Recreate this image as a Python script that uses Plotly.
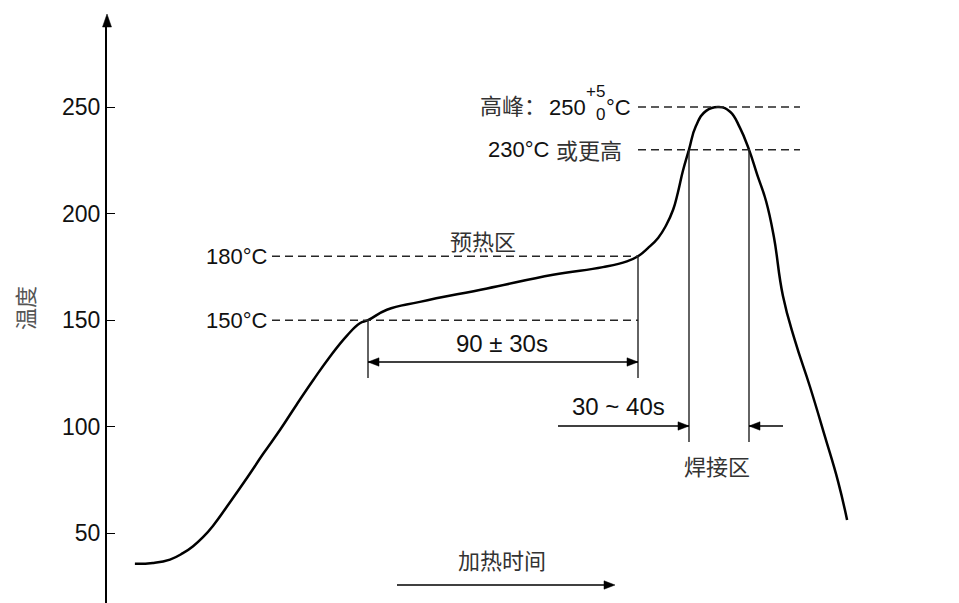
import plotly.graph_objects as go

# Reflow soldering profile: time (s) against temperature (°C)
time_s = [9.3, 15.3, 21.0, 25.3, 28.7, 32.0, 35.3, 41.0, 46.7, 52.0, 57.7, 63.3,
          68.7, 74.3, 80.0, 84.3, 87.0, 93.3, 104.3, 126.7, 148.7, 165.3, 173.3,
          177.0, 180.3, 183.7, 186.3, 188.7, 190.3, 192.0, 194.0, 196.3, 199.7,
          204.0, 207.7, 211.0, 214.0, 216.7, 219.7, 222.3, 225.3, 229.3, 234.3,
          239.3, 243.7, 246.7]
temp_c = [35.7, 36.1, 37.7, 40.7, 44.0, 48.2, 53.5, 64.6, 76.1, 87.2, 98.6, 110.6,
          121.8, 132.9, 142.8, 148.6, 150.0, 154.9, 158.6, 164.9, 171.3, 174.9, 177.6,
          180.0, 183.8, 188.6, 194.3, 201.8, 209.9, 220.2, 230.0, 241.1, 248.2,
          250.0, 247.8, 240.2, 230.0, 218.4, 205.8, 189.0, 161.5, 140.5, 118.9,
          95.5, 74.3, 56.3]

tick_vals = [50, 100, 150, 200, 250]
tick_text = ["50", "100", "150", "200", "250"]

preheat_temps = [150, 180]      # preheat zone limits
preheat_times = [87, 177]       # start / end of the preheat zone
reflow_temp = 230               # liquidus level
reflow_times = [194, 214]       # curve above 230 °C
peak_temp = 250

# ---- layout geometry -------------------------------------------------------
W, H = 959, 603
AX_X = 107                      # y axis position (px)
AX_TOP = 25                     # top of the y axis line (px)
X_RANGE = [0, 284]
Y_RANGE = [17.34, 288.48]
PX_PER_S = (W - AX_X) / (X_RANGE[1] - X_RANGE[0])
PX_PER_DEG = (H - AX_TOP) / (Y_RANGE[1] - Y_RANGE[0])


def px_to_t(px):
    return X_RANGE[0] + (px - AX_X) / PX_PER_S


def py_to_v(py):
    return Y_RANGE[0] + (H - py) / PX_PER_DEG


def t_to_px(t):
    return AX_X + (t - X_RANGE[0]) * PX_PER_S


def v_to_py(v):
    return H - (v - Y_RANGE[0]) * PX_PER_DEG


def paper(px, py):
    return px / W, 1 - py / H


def head(t, v, direction, length=11, half=4.2):
    """Filled triangular arrow head with its tip at (t, v), in data coords."""
    tx, ty = t_to_px(t), v_to_py(v)
    dx, dy = direction
    bx, by = tx - dx * length, ty - dy * length
    px_, py_ = -dy * half, dx * half
    pts = [(tx, ty), (bx + px_, by + py_), (bx - px_, by - py_)]
    d = "M " + " L ".join(f"{px_to_t(x):.4f},{py_to_v(y):.4f}" for x, y in pts) + " Z"
    return dict(type="path", xref="x", yref="y", path=d,
                fillcolor="black", line=dict(color="black", width=0.5))


NUM_FONT = "Liberation Sans, Arial, Noto Sans CJK SC"
CJK_FONT = "Noto Sans CJK SC, Liberation Sans"

fig = go.Figure()

fig.add_trace(go.Scatter(
    x=time_s, y=temp_c, mode="lines",
    line=dict(color="black", width=2.5, shape="spline", smoothing=1.3),
    hoverinfo="skip", showlegend=False,
))

shapes = []
DASH = dict(color="#262626", width=1.5, dash="8px,5px")
THIN = dict(color="#222222", width=1.4)

# dashed reference levels
label_edge_t = px_to_t(272)
for lvl in preheat_temps:
    shapes.append(dict(type="line", xref="x", yref="y", x0=label_edge_t, x1=preheat_times[1],
                       y0=lvl, y1=lvl, line=DASH))
right_t = px_to_t(800)
for lvl in [peak_temp, reflow_temp]:
    shapes.append(dict(type="line", xref="x", yref="y", x0=preheat_times[1], x1=right_t,
                       y0=lvl, y1=lvl, line=DASH))

# vertical markers
preheat_bottom = py_to_v(378)
shapes.append(dict(type="line", xref="x", yref="y", x0=preheat_times[0], x1=preheat_times[0],
                   y0=preheat_temps[0], y1=preheat_bottom, line=THIN))
shapes.append(dict(type="line", xref="x", yref="y", x0=preheat_times[1], x1=preheat_times[1],
                   y0=preheat_temps[1], y1=preheat_bottom, line=THIN))
reflow_bottom = py_to_v(442)
for t in reflow_times:
    shapes.append(dict(type="line", xref="x", yref="y", x0=t, x1=t,
                       y0=reflow_temp, y1=reflow_bottom, line=THIN))

# 90 ± 30 s span arrow
span_v = py_to_v(362)
shapes.append(dict(type="line", xref="x", yref="y", x0=preheat_times[0], x1=preheat_times[1],
                   y0=span_v, y1=span_v, line=dict(color="black", width=1.4)))
shapes.append(head(preheat_times[0], span_v, (-1, 0)))
shapes.append(head(preheat_times[1], span_v, (1, 0)))

# 30 ~ 40 s arrows pointing at the reflow zone
weld_v = py_to_v(426)
shapes.append(dict(type="line", xref="x", yref="y", x0=px_to_t(558), x1=reflow_times[0],
                   y0=weld_v, y1=weld_v, line=dict(color="black", width=1.4)))
shapes.append(head(reflow_times[0], weld_v, (1, 0)))
shapes.append(dict(type="line", xref="x", yref="y", x0=px_to_t(783), x1=reflow_times[1],
                   y0=weld_v, y1=weld_v, line=dict(color="black", width=1.4)))
shapes.append(head(reflow_times[1], weld_v, (-1, 0)))

# heating-time direction arrow
ht_v = py_to_v(585)
shapes.append(dict(type="line", xref="x", yref="y", x0=px_to_t(397), x1=px_to_t(605),
                   y0=ht_v, y1=ht_v, line=dict(color="black", width=1.4)))
shapes.append(head(px_to_t(615), ht_v, (1, 0)))

# arrow tip on the y axis
ax0, ay0 = paper(AX_X, 14)
axl, ayb = paper(AX_X - 4.5, 27)
axr, _ = paper(AX_X + 4.5, 27)
shapes.append(dict(type="path", xref="paper", yref="paper",
                   path=f"M {ax0},{ay0} L {axl},{ayb} L {axr},{ayb} Z",
                   fillcolor="black", line=dict(color="black", width=0.5)))

annotations = []


def text(s, x, y, xref="paper", yref="paper", size=22, font=NUM_FONT, color="#111111",
         xanchor="center", yanchor="middle", angle=0):
    annotations.append(dict(text=s, x=x, y=y, xref=xref, yref=yref, showarrow=False,
                            xanchor=xanchor, yanchor=yanchor, textangle=angle,
                            borderpad=0, borderwidth=0,
                            font=dict(family=font, size=size, color=color)))


text("温度", *paper(24, 308), size=22, font=CJK_FONT, color="#555555", angle=-90)
for lvl in preheat_temps:
    text(f"{lvl}°C", px_to_t(268), lvl, xref="x", yref="y", xanchor="right")
text("预热区", *paper(483, 240), size=22, font=CJK_FONT, color="#333333")
text("90 ± 30s", *paper(502, 343), size=24)
text("30 ~ 40s", *paper(618, 406), size=24)
text("焊接区", *paper(717, 465), size=22, font=CJK_FONT, color="#333333")
text("加热时间", *paper(502, 559), size=22, font=CJK_FONT, color="#333333")

text("高峰：", *paper(546, 104), size=22, font=CJK_FONT, color="#333333", xanchor="right")
text(f"{peak_temp}", px_to_t(586), peak_temp, xref="x", yref="y", xanchor="right")
text("+5", *paper(586, 92), size=17, xanchor="left")
text("0", *paper(596, 114), size=17, xanchor="left")
text("°C", px_to_t(606), peak_temp, xref="x", yref="y", xanchor="left")
text(f"{reflow_temp}°C", px_to_t(550), reflow_temp, xref="x", yref="y", xanchor="right")
text("或更高", *paper(622, 149), size=22, font=CJK_FONT, color="#333333", xanchor="right")

fig.update_layout(
    width=W, height=H,
    margin=dict(l=0, r=0, t=0, b=0),
    paper_bgcolor="white", plot_bgcolor="white",
    shapes=shapes, annotations=annotations,
    xaxis=dict(domain=[AX_X / W, 1], range=X_RANGE, visible=False, fixedrange=True),
    yaxis=dict(domain=[0, 1 - AX_TOP / H], range=Y_RANGE, showgrid=False, zeroline=False,
               showline=True, linecolor="black", linewidth=2,
               ticks="inside", ticklen=8, tickwidth=1.4, tickcolor="black",
               tickvals=tick_vals, ticktext=tick_text,
               tickfont=dict(family=NUM_FONT, size=23, color="#111111"),
               fixedrange=True),
    showlegend=False,
)

fig.write_html("out.html")
